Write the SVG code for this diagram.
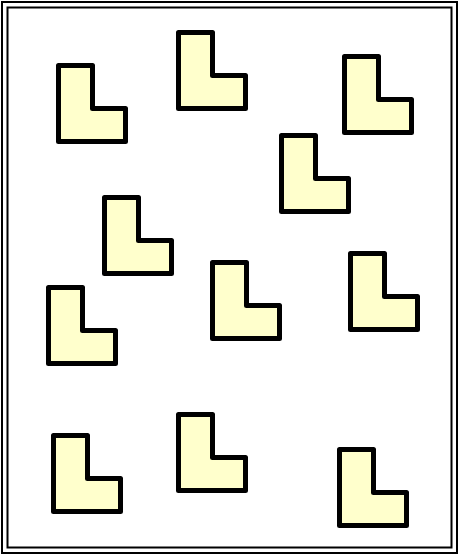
<svg xmlns="http://www.w3.org/2000/svg" width="459" height="555" viewBox="0 0 459 555">
<defs>
<style>
.frame{fill:none;stroke:#000;stroke-width:2}
.L{fill:#FFFFCC;stroke:#000;stroke-width:5;stroke-linejoin:round}
</style>
<path id="ell" class="L" d="M0,0 H34 V43 H67 V76 H0 Z"/>
</defs>
<rect width="459" height="555" fill="#fff"/>
<g id="frame">
<rect class="frame" x="2" y="2" width="455" height="551"/>
<rect class="frame" x="7.5" y="7.5" width="444" height="540"/>
</g>
<g id="shape1"><use href="#ell" x="58.5" y="65.5"/></g>
<g id="shape2"><use href="#ell" x="178.5" y="32.5"/></g>
<g id="shape3"><use href="#ell" x="344.5" y="56.5"/></g>
<g id="shape4"><use href="#ell" x="281.5" y="135.5"/></g>
<g id="shape5"><use href="#ell" x="104.5" y="197.5"/></g>
<g id="shape6"><use href="#ell" x="212.5" y="262.5"/></g>
<g id="shape7"><use href="#ell" x="350.5" y="253.5"/></g>
<g id="shape8"><use href="#ell" x="48.5" y="287.5"/></g>
<g id="shape9"><use href="#ell" x="53.5" y="435.5"/></g>
<g id="shape10"><use href="#ell" x="178.5" y="414.5"/></g>
<g id="shape11"><use href="#ell" x="339.5" y="449.5"/></g>
<g id="connectors"></g>
</svg>
